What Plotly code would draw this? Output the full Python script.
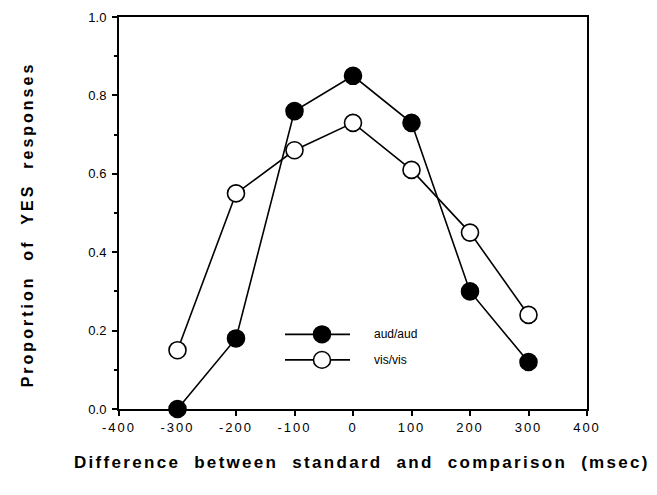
import plotly.graph_objects as go

# Stimulus-duration difference (msec) and proportion of YES responses
difference = [-300, -200, -100, 0, 100, 200, 300]
aud_aud = [0.00, 0.18, 0.76, 0.85, 0.73, 0.30, 0.12]
vis_vis = [0.15, 0.55, 0.66, 0.73, 0.61, 0.45, 0.24]

x_ticks = [-400, -300, -200, -100, 0, 100, 200, 300, 400]
y_ticks = [0.0, 0.2, 0.4, 0.6, 0.8, 1.0]

x_title = "Difference between standard and comparison (msec)"
y_title = "Proportion of YES responses"

W, H = 657, 495
L, R, T, B = 119, 70, 10, 86
pw, ph = W - L - R, H - T - B

font = "Liberation Sans, Arial, Helvetica, sans-serif"


def spaced(text, ls, gap=2):
    words = text.split(" ")
    joined = ("\u00a0" * gap).join(words)
    return f'<b><span style="letter-spacing:{ls}px">{joined}</span></b>'


fig = go.Figure()
fig.add_trace(go.Scatter(
    x=difference, y=vis_vis, mode="lines+markers", name="vis/vis",
    line=dict(color="black", width=1.6),
    marker=dict(symbol="circle", size=17, color="white",
                line=dict(color="black", width=1.6)),
    cliponaxis=False, showlegend=False))
fig.add_trace(go.Scatter(
    x=difference, y=aud_aud, mode="lines+markers", name="aud/aud",
    line=dict(color="black", width=1.6),
    marker=dict(symbol="circle", size=17, color="black",
                line=dict(color="black", width=1.6)),
    cliponaxis=False, showlegend=False))


# Pixel -> paper helpers for the legend key and axis titles
def px(xp):
    return (xp - L) / pw


def py(yp):
    return (H - B - yp) / ph


shapes = []
annotations = []
for label, ypix, fill in [("aud/aud", 333, "black"), ("vis/vis", 359, "white")]:
    shapes.append(dict(type="line", xref="paper", yref="paper",
                       x0=px(285), x1=px(350), y0=py(ypix), y1=py(ypix),
                       line=dict(color="black", width=1.6)))
    shapes.append(dict(type="circle", xref="paper", yref="paper",
                       x0=px(322 - 8.5), x1=px(322 + 8.5),
                       y0=py(ypix + 8.5), y1=py(ypix - 8.5),
                       fillcolor=fill, line=dict(color="black", width=1.6)))
    annotations.append(dict(text=label, xref="paper", yref="paper",
                            x=px(372), y=py(ypix), xanchor="left", yanchor="middle",
                            showarrow=False, font=dict(family=font, size=12, color="black")))

annotations.append(dict(text=spaced(x_title, 2.3), xref="paper", yref="paper",
                        x=px(362), y=py(463), xanchor="center", yanchor="middle",
                        showarrow=False, font=dict(family=font, size=17, color="black")))
annotations.append(dict(text=spaced(y_title, 3.0), xref="paper", yref="paper",
                        x=px(27), y=py(221), xanchor="center", yanchor="middle",
                        textangle=-90, showarrow=False,
                        font=dict(family=font, size=16, color="black")))

fig.update_layout(
    width=W, height=H,
    margin=dict(l=L, r=R, t=T, b=B),
    paper_bgcolor="white", plot_bgcolor="white",
    shapes=shapes, annotations=annotations,
    font=dict(family=font, color="black"),
    xaxis=dict(
        range=[-400, 400], tickvals=x_ticks,
        ticktext=[f'<span style="letter-spacing:2px">{v}</span>' for v in x_ticks],
        ticks="outside", ticklen=5, tickwidth=1.5, tickcolor="black",
        showline=True, linecolor="black", linewidth=2, mirror=True,
        showgrid=False, zeroline=False,
        tickfont=dict(family=font, size=13),
    ),
    yaxis=dict(
        range=[0, 1], tickvals=y_ticks,
        ticktext=[f"{v:.1f}" for v in y_ticks],
        ticks="outside", ticklen=5, tickwidth=1.5, tickcolor="black",
        minor=dict(dtick=0.1, ticks="outside", ticklen=3, tickwidth=1.5, tickcolor="black"),
        showline=True, linecolor="black", linewidth=2, mirror=True,
        showgrid=False, zeroline=False,
        tickfont=dict(family=font, size=13),
        ticklabelstandoff=3,
    ),
)

fig.write_html("out.html")
